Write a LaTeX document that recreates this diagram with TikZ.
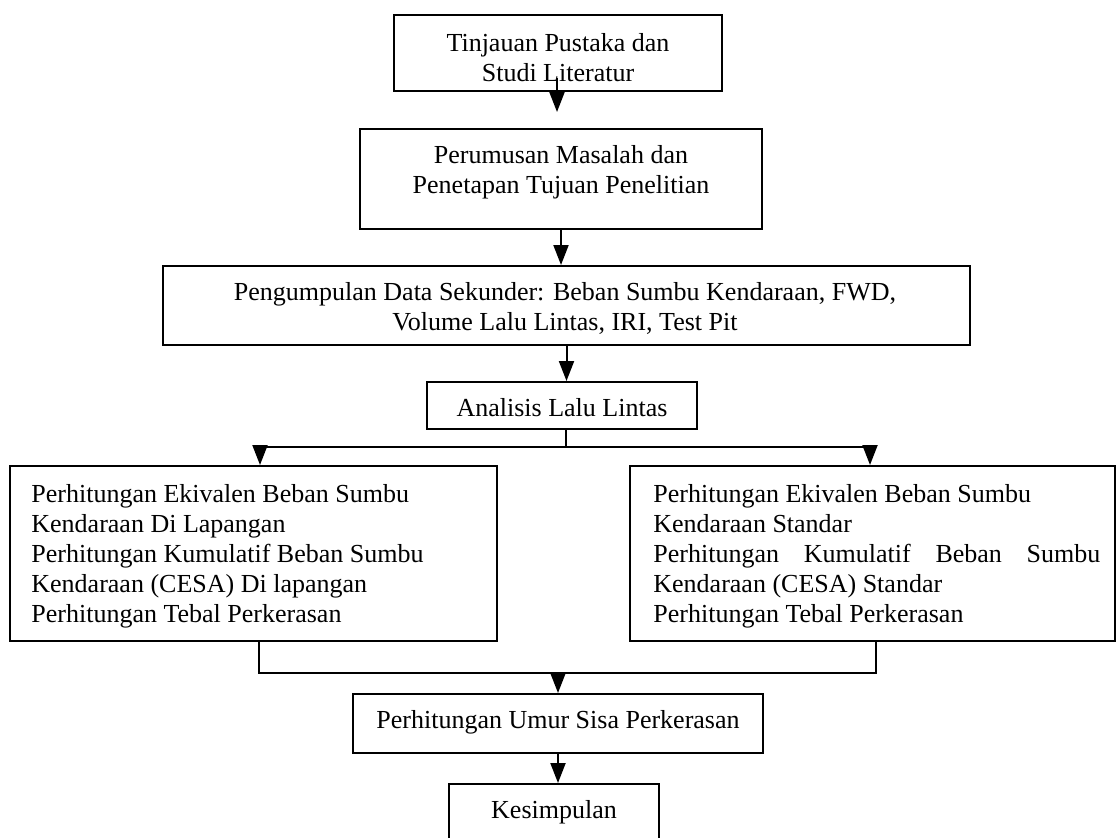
\documentclass[tikz,border=0pt]{standalone}
\usepackage{fontspec}
\setmainfont{Liberation Serif}
\usetikzlibrary{arrows.meta}
\begin{document}
\begin{tikzpicture}[x=0.5pt,y=-0.5pt,
  box/.style={draw, line width=1pt, inner sep=0pt},
  txt/.style={inner sep=0pt, font=\fontsize{13pt}{15pt}\selectfont},
  arr/.style={line width=1pt, -{Triangle[length=10pt,width=7.5pt]}},
  ln/.style={line width=1pt}]
\useasboundingbox (0,0) rectangle (1118,837);
% boxes
\node[box, minimum width=164pt, minimum height=38pt] (b1) at (558,53) {};
\node[box, minimum width=201pt, minimum height=50pt] (b2) at (561,179) {};
\node[box, minimum width=403.5pt, minimum height=39.5pt] (b3) at (566.5,305.5) {};
\node[box, minimum width=135pt, minimum height=23.5pt] (b4) at (562,405.5) {};
\node[box, minimum width=243.5pt, minimum height=87.5pt] (b5) at (253.5,553.5) {};
\node[box, minimum width=242.5pt, minimum height=87.5pt] (b6) at (872.5,553.5) {};
\node[box, minimum width=205pt, minimum height=29.5pt] (b7) at (558,723.5) {};
\node[box, minimum width=105pt, minimum height=30.5pt] (b8) at (554,814.5) {};
% texts
\node[txt, align=center] (t1) at (558,57.5) {Tinjauan Pustaka dan\\Studi Literatur};
\node[txt, align=center] (t2) at (561,172) {Perumusan Masalah dan\\Penetapan Tujuan Penelitian};
\node[txt, align=center] (t3) at (565,308) {Pengumpulan Data Sekunder: Beban Sumbu Kendaraan, FWD,\\Volume Lalu Lintas, IRI, Test Pit};
\node[txt] (t4) at (562,408) {Analisis Lalu Lintas};
\node[txt, align=left, anchor=west] (t5) at (31,556) {Perhitungan Ekivalen Beban Sumbu\\Kendaraan Di Lapangan\\Perhitungan Kumulatif Beban Sumbu\\Kendaraan (CESA) Di lapangan\\Perhitungan Tebal Perkerasan};
\node[txt, align=left, anchor=west] (t6) at (653,556) {Perhitungan Ekivalen Beban Sumbu\\Kendaraan Standar\\\makebox[223.5pt][s]{Perhitungan Kumulatif Beban Sumbu}\\Kendaraan (CESA) Standar\\Perhitungan Tebal Perkerasan};
\node[txt] (t7) at (558,722) {Perhitungan Umur Sisa Perkerasan};
\node[txt] (t8) at (554,812) {Kesimpulan};
% connectors
\coordinate (a1s) at (557,78);
\coordinate (a1e) at (557,112);
\draw[arr] (a1s) -- (a1e);
\draw[arr] (b2.south) -- (b2.south |- b3.north);
\draw[arr] (b3.south) -- (b3.south |- b4.north);
\coordinate (s4) at (566,429);
\coordinate (h4) at (566,447);
\coordinate (hl) at (260,447);
\coordinate (hr) at (870,447);
\draw[ln] (s4) -- (h4);
\draw[ln] (hl) -- (hr);
\draw[arr] (hl) -- (hl |- b5.north);
\draw[arr] (hr) -- (hr |- b6.north);
\coordinate (sl) at (259,641);
\coordinate (sr) at (876,641);
\coordinate (bl) at (259,673);
\coordinate (br) at (876,673);
\coordinate (bm) at (558,673);
\draw[ln] (sl) -- (bl) -- (br) -- (sr);
\draw[arr] (bm) -- (bm |- b7.north);
\draw[arr] (b7.south) -- (b7.south |- b8.north);
\end{tikzpicture}
\end{document}
